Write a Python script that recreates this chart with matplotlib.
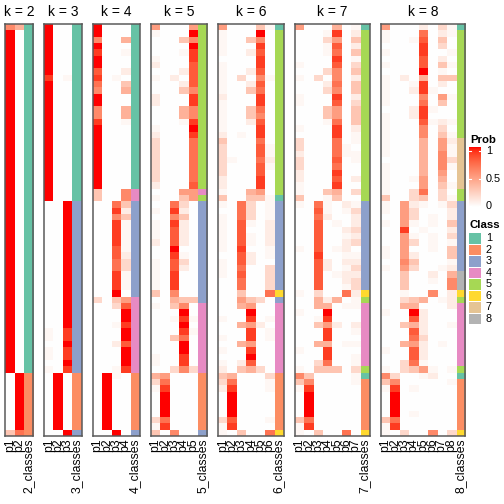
import numpy as np
import matplotlib
matplotlib.use("Agg")
import matplotlib.pyplot as plt
from matplotlib.colors import ListedColormap
from matplotlib.patches import Rectangle

plt.rcParams['font.family'] = ['Liberation Sans', 'DejaVu Sans']

# membership probability per sample (one string per row, one char per class)
# '0' = 0, '.' = ~0.04, '1'..'9' = 0.1..0.9, 'X' = 1
prob_k2 = ["64"] + ["X0"] * 54 + ["0X"] * 9 + ["37"]
class_k2 = "1" * 55 + "2" * 10

prob_k3 = (["X00"] * 8 + ["90."] + ["X00"] * 19 + ["00X"] * 20
           + [".09", ".09", "00X", ".09", ".09", "00X", ".09"]
           + ["0X0"] * 9 + ["00X"])
class_k3 = "1" * 28 + "3" * 27 + "2" * 9 + "3"

prob_k4 = (["X000", "X000", "6004", "X000", "900.", "X000", "X000", "8001",
            "90.0", "7003", "6004", "X000", "X000", "6004", "6004", "900."]
           + ["X000"] * 10
           + ["3006", "3006", "0073", "0091", "0063", "009.", "009.", "009.",
              "009.", "008.", "0081", "0072", "0072", "009.", "009.", "009.",
              "00X0", "2035", "0028", "000X", "000X", "00.9", "000X", "000X",
              "0018", "000X", "000X", "000X", "00.9", "0X.0"]
           + ["0X00"] * 8 + ["00X0"])
class_k4 = "1" * 26 + "44" + "3" * 15 + "4" * 12 + "2" * 9 + "3"

prob_k5 = ["50005", ".000X", "00036", "0000X", "000.9", ".0009", "10008", "00018",
           ".0108", "00018", "00036", "10009", "10009", "00046", "00046", "000.9",
           ".000X", "10009", "20007", "20007", "20007", "20007", "20007", "20007",
           "20007", "10008", "00055", ".0035", "00720", ".0910", "00630", ".0910",
           ".0810", ".0810", "10810", "00X00", "009.0", ".0820", ".0810", ".0900",
           ".0900", ".0900", "30600", "00433", ".0360", "000X0", "00.9.", "000X0",
           "0009.", "00370", "000X0", "000X0", ".0090", ".0090", "00262", "45000",
           "27000", ".9000", "0X000", "0X000", "0X000", "0X000", "27000", ".9000",
           "30600"]
class_k5 = "5" * 26 + "4" + "5" + "3" * 16 + "4" * 11 + "2" * 9 + "3"

prob_k6 = ["50003.", ".000X0", ".00360", ".00090", ".00180", "000090", ".00090", ".00180",
           ".0206.", ".00180", ".00370", "100090", ".00090", ".00370", ".00360", ".00180",
           ".00090", "10.090", "300070", "20008.", "20008.", "2.0071", "20008.", "200080",
           "100090", "100090", ".00450", "30033.", ".0720.", "00720.", ".0720.", ".08.01",
           ".08001", ".08.01", ".08.01", ".0900.", "00810.", ".08100", ".07002", ".08002",
           "007002", "007002", "003007", "005320", "004500", "000X00", ".0090.", "004510",
           "00090.", ".0090.", "004500", ".00900", "000X00", ".01800", "103420", "340002",
           "27000.", "19000.", "0X0000", "0X0000", "0X0000", "0X0000", "28000.", ".90000",
           ".03007"]
class_k6 = "1" + "5" * 26 + "1" + "3" * 14 + "6" + "3" + "4" * 11 + "2" * 9 + "6"

prob_k7 = ["500040.", "000.901", "0002503", "000.801", "000.703", "000090.", ".000802", "0002603",
           ".020601", "0001703", "0002603", ".000901", ".000802", "0003503", "0003503", "000.703",
           ".000901", "000090.", "200070.", "20007.0", "10007..", "200080.", "2000700", "1000900",
           "1000801", ".000900", ".003402", "300.300", ".07.01.", "008.0.2", "0071001", "0080.01",
           "0080012", "00800.1", "0080012", ".080.10", "00900..", "0081011", "00810.2", "0080.11",
           "0080012", "00800.2", ".020071", "004140.", "00440..", ".00X000", "00.9000", "0035101",
           "000900.", "0009000", "00440..", ".009000", "000900.", "002700.", ".033302", "630000.",
           "360000.", ".900000", "0X00000", "0X00000", "0X00000", "0X00000", "3700000", ".900000",
           ".030070"]
class_k7 = "1" + "5" * 27 + "3" * 14 + "6" + "5" + "4" * 10 + "5" + "1" + "2" * 8 + "6"

prob_k8 = ["5000102.", ".000701.", ".00.8030", "00009020", ".000900.", "00008010", ".000803.", "0000X0.0",
           ".0104033", ".00.9010", ".0019.00", ".000605.", ".0007030", "00019.00", ".0019000", ".0008.1.",
           ".0006020", ".000603.", ".0004051", ".000405.", ".000406.", "00004062", ".000406.", ".0004050",
           ".00.5040", ".000503.", ".0027020", "3002302.", ".051.0.2", ".0520001", "00520.01", ".05.0.03",
           "0090.001", "005.0.02", "00520.0.", ".0500.03", ".0510003", "0063000.", ".05200.1", "00300104",
           "00300.06", "00300006", "00.00601", "002340.1", "00440001", ".00X1000", "00081000", "0034100.",
           "00081000", "00072000", "004510.0", ".0081000", "00081000", "0027.000", ".0235.0.", "6200.100",
           "3600000.", ".90.0000", "0X000000", "0X000000", "0X000000", "0X0.0000", "37000000", ".9000000",
           ".0200602"]
class_k8 = "1" + "5" * 17 + "7" * 8 + "55" + "3" * 11 + "888" + "6" + "5" + "4" * 10 + "5" + "1" + "2" * 8 + "6"

ks = [2, 3, 4, 5, 6, 7, 8]
prob_list = [prob_k2, prob_k3, prob_k4, prob_k5, prob_k6, prob_k7, prob_k8]
class_list = [class_k2, class_k3, class_k4, class_k5, class_k6, class_k7, class_k8]

class_colors = {"1": "#66C2A5", "2": "#FC8D62", "3": "#8DA0CB", "4": "#E78AC3",
                "5": "#A6D854", "6": "#FFD92F", "7": "#E5C494", "8": "#B3B3B3"}


# white -> red ramp interpolated in LAB space, like colorRamp2
M = np.array([[0.4124564, 0.3575761, 0.1804375],
              [0.2126729, 0.7151522, 0.0721750],
              [0.0193339, 0.1191920, 0.9503041]])
WP = np.array([0.95047, 1.0, 1.08883])


def to_lab(rgb):
    c = np.asarray(rgb, float)
    lin = np.where(c <= 0.04045, c / 12.92, ((c + 0.055) / 1.055) ** 2.4)
    xyz = M @ lin / WP
    f = np.where(xyz > 0.008856, np.cbrt(xyz), 7.787 * xyz + 16 / 116)
    return np.array([116 * f[1] - 16, 500 * (f[0] - f[1]), 200 * (f[1] - f[2])])


def from_lab(lab):
    fy = (lab[0] + 16) / 116
    f = np.array([fy + lab[1] / 500, fy, fy - lab[2] / 200])
    xyz = np.where(f ** 3 > 0.008856, f ** 3, (f - 16 / 116) / 7.787) * WP
    lin = np.clip(np.linalg.solve(M, xyz), 0, 1)
    c = np.where(lin <= 0.0031308, 12.92 * lin, 1.055 * lin ** (1 / 2.4) - 0.055)
    return np.clip(c, 0, 1)


lab_w, lab_r = to_lab([1, 1, 1]), to_lab([1, 0, 0])
prob_cmap = ListedColormap([from_lab(lab_w + t * (lab_r - lab_w)) for t in np.linspace(0, 1, 256)])


def char_val(c):
    if c == "X":
        return 1.0
    if c == ".":
        return 0.04
    return int(c) / 10


W = H = 504
col_w, gap, x0 = 9.35, 11.2, 5
top, bottom = 24, 436

fig = plt.figure(figsize=(5.04, 5.04), dpi=100)

x = x0
for k, rows, cls in zip(ks, prob_list, class_list):
    ncol = k + 1
    vals = np.array([[char_val(c) for c in r] for r in rows])
    img = np.zeros((len(rows), ncol, 3))
    img[:, :k, :] = prob_cmap(vals)[:, :, :3]
    img[:, k, :] = [matplotlib.colors.to_rgb(class_colors[c]) for c in cls]

    ax = fig.add_axes([x / W, 1 - bottom / H, ncol * col_w / W, (bottom - top) / H])
    ax.imshow(img, aspect="auto", interpolation="nearest", extent=(0, ncol, len(rows), 0))
    ax.set_xlim(0, ncol)
    ax.set_ylim(len(rows), 0)
    ax.set_yticks([])
    ax.set_xticks(np.arange(ncol) + 0.5,
                  labels=[f"p{i + 1}" for i in range(k)] + [f"{k}_classes"],
                  rotation=90, fontsize=8.8)
    ax.tick_params(axis="x", length=0, pad=2)
    for sp in ax.spines.values():
        sp.set_color("#5a5a5a")
        sp.set_linewidth(1.1)
    fig.text((x + ncol * col_w / 2) / W, 1 - 16 / H, f"k = {k}", fontsize=10,
             ha="center", va="baseline")
    x += ncol * col_w + gap

# Prob legend
fig.text(470 / W, 1 - 140 / H, "Prob", fontsize=8.2, fontweight="bold", va="center")
cax = fig.add_axes([469 / W, 1 - 207 / H, 12 / W, 60 / H])
cax.imshow(np.linspace(1, 0, 200)[:, None], cmap=prob_cmap, aspect="auto",
           extent=(0, 1, 0, 1), vmin=0, vmax=1)
cax.set_axis_off()
for v, lab in [(1, "1"), (0.5, "0.5"), (0, "0")]:
    yy = 206 - v * 55
    cax.plot([0, 0.2], [1 - (yy - 147) / 60] * 2, color="white", lw=0.8)
    cax.plot([0.8, 1], [1 - (yy - 147) / 60] * 2, color="white", lw=0.8)
    fig.text(486 / W, 1 - yy / H, lab, fontsize=7.8, va="center")

# Class legend
fig.text(470 / W, 1 - 225 / H, "Class", fontsize=8.2, fontweight="bold", va="center")
for i, c in enumerate(sorted(class_colors)):
    yc = 238.3 + 11.5 * i
    fig.patches.append(Rectangle(((469) / W, 1 - (yc + 5.2) / H), 12 / W, 10.4 / H,
                                 transform=fig.transFigure, facecolor=class_colors[c],
                                 edgecolor="none"))
    fig.text(486 / W, 1 - yc / H, c, fontsize=7.8, va="center")

fig.savefig("out.png", dpi=100)
